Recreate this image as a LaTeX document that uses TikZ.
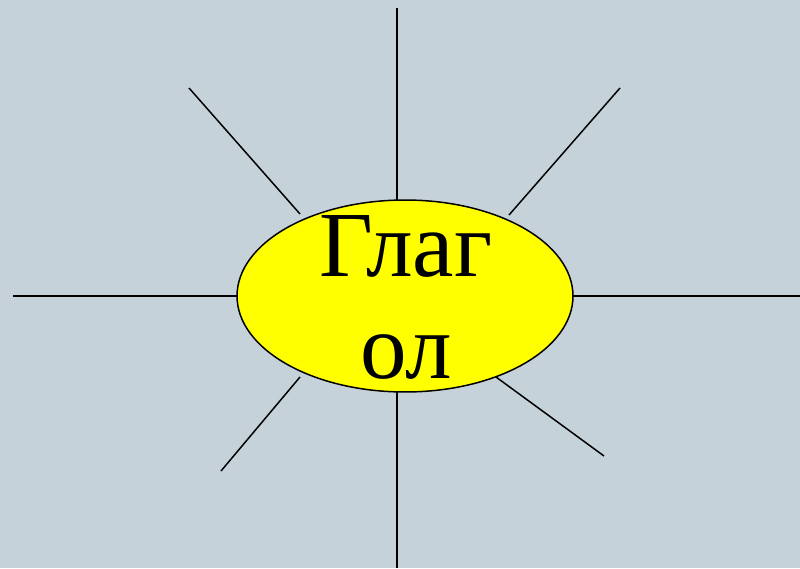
\documentclass[tikz,border=0pt]{standalone}
\usepackage{fontspec}
\setmainfont{Liberation Serif}
\usetikzlibrary{shapes.geometric}
\definecolor{bg}{HTML}{C6D2D9}
\definecolor{sunfill}{HTML}{FFFF00}
\tikzset{
  ray/.style={draw=black, line width=0.85pt},
  sun/.style={ellipse, draw=black, line width=0.85pt, fill=sunfill, minimum width=6.72cm, minimum height=3.84cm, inner sep=0pt},
  word/.style={anchor=base, inner sep=0pt, font=\fontsize{53}{60}\selectfont}
}
\begin{document}
\begin{tikzpicture}[x=0.02cm, y=-0.02cm]
\fill[bg] (0,0) rectangle (800,568);
\useasboundingbox (0,0) rectangle (800,568);
\node[sun] (s) at (405,296) {};
\node[word] (w1) at (406,276) {Глаг};
\node[word] (w2) at (406,378) {ол};
\coordinate (t) at (397,8);
\coordinate (b) at (397,568);
\coordinate (l) at (13,296);
\coordinate (r) at (800,296);
\coordinate (ul) at (189,88);
\coordinate (ur) at (620,88);
\coordinate (ll) at (221,471);
\coordinate (lr) at (604,456);
\coordinate (sul) at (300,214);
\coordinate (sur) at (509,215);
\coordinate (sll) at (300,377);
\coordinate (slr) at (496,377);
\coordinate (st) at (397,200);
\coordinate (sb) at (397,392);
\coordinate (sl) at (237,296);
\coordinate (sr) at (573,296);
\draw[ray] (t) -- (st);
\draw[ray] (b) -- (sb);
\draw[ray] (l) -- (sl);
\draw[ray] (r) -- (sr);
\draw[ray] (ul) -- (sul);
\draw[ray] (ur) -- (sur);
\draw[ray] (ll) -- (sll);
\draw[ray] (lr) -- (slr);
\end{tikzpicture}
\end{document}
